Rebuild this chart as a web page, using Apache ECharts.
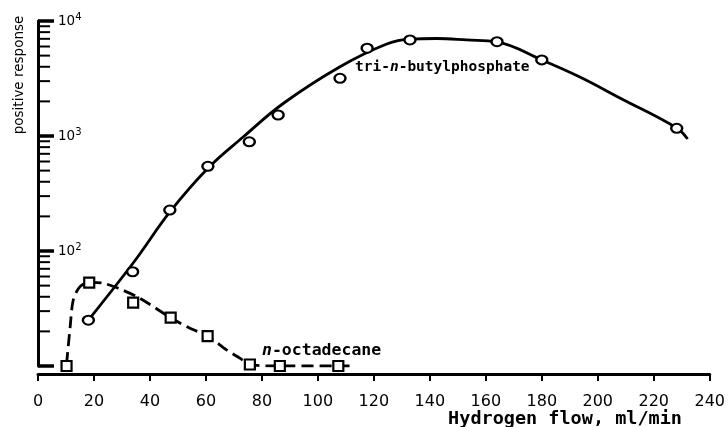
<!DOCTYPE html>
<html>
<head>
<meta charset="utf-8">
<script src="https://cdn.jsdelivr.net/npm/echarts@6/dist/echarts.min.js"></script>
<style>
html,body{margin:0;padding:0;background:#fff;}
#chart{width:728px;height:427px;}
</style>
</head>
<body>
<div id="chart"></div>
<script>
// Hydrogen flow (ml/min) vs positive response
const triMarkersX = [18, 33.8, 47.1, 60.7, 75.5, 85.8, 107.9, 117.6, 132.9, 164, 180, 228.2];
const triMarkersY = [25, 66, 227, 545, 891, 1523, 3175, 5800, 6840, 6610, 4590, 1166];
const triCurveX = [18, 34, 47.4, 60.8, 73.3, 87.6, 107.9, 124.6, 132.9, 142.5, 153.2, 163.9, 180, 193.6, 207.9, 228.2, 232.1];
const triCurveY = [25.1, 78.6, 222.8, 526.8, 980, 1917, 4005, 6310, 6970, 7047, 6839, 6568, 4581, 3258, 2140, 1174, 942];

const octMarkersX = [10.2, 18.3, 34, 47.4, 60.6, 75.7, 86.4, 107.3];
const octMarkersY = [10, 53, 35.5, 26.3, 18.2, 10.3, 10, 10];
const octCurveX = [10.2, 11.5, 12.6, 15, 18.3, 23.3, 28.7, 36.4, 47.4, 54.3, 60.6, 67.4, 72.1, 75.7, 86.4, 113];
const octCurveY = [10.4, 22, 37.5, 49, 53.4, 52.4, 47.4, 38.8, 26.3, 21.3, 18.2, 13.8, 11.7, 10.3, 10, 10];

const xTicks = [0, 20, 40, 60, 80, 100, 120, 140, 160, 180, 200, 220, 240];
const yMajorExponents = [1, 2, 3, 4];
const yMinorTicks = [20,30,40,50,60,70,80,90,200,300,400,500,600,700,800,900,2000,3000,4000,5000,6000,7000,8000,9000];

const zip = (xs, ys) => xs.map((x, i) => [x, ys[i]]);

const chart = echarts.init(document.getElementById('chart'), null, {renderer: 'canvas'});
chart.setOption({
  animation: false,
  backgroundColor: '#fff',
  grid: {left: 38, right: 18, top: 21, bottom: 61},
  xAxis: {
    type: 'value', min: xTicks[0], max: xTicks[xTicks.length - 1], interval: 20,
    offset: 8,
    axisLine: {show: true, lineStyle: {color: '#000', width: 3}},
    axisTick: {show: true, inside: false, length: 7, lineStyle: {color: '#000', width: 2}},
    axisLabel: {color: '#000', fontFamily: 'DejaVu Sans', fontSize: 16, margin: 20},
    splitLine: {show: false}
  },
  yAxis: {
    type: 'log', logBase: 10, min: Math.pow(10, yMajorExponents[0]), max: Math.pow(10, yMajorExponents[3]),
    axisLine: {show: true, onZero: false, lineStyle: {color: '#000', width: 3}},
    axisTick: {show: true, inside: true, length: 16, lineStyle: {color: '#000', width: 3.5}},
    axisLabel: {
      inside: true, margin: 20, color: '#000',
      formatter: v => { const e = Math.round(Math.log10(v)); return e === yMajorExponents[0] ? '' : '{b|10}{s|' + e + '}'; },
      rich: {
        b: {fontFamily: 'DejaVu Sans', fontSize: 13.5, lineHeight: 17, color: '#000'},
        s: {fontFamily: 'DejaVu Sans', fontSize: 10, lineHeight: 10, verticalAlign: 'top', color: '#000'}
      }
    },
    splitLine: {show: false}
  },
  graphic: [
    {type: 'text', x: 19, y: 75, rotation: Math.PI / 2,
     style: {text: 'positive response', fill: '#000', font: '13.5px "DejaVu Sans"', align: 'center', verticalAlign: 'middle'}},
    {type: 'text', x: 355, y: 67,
     style: {text: '{a|tri-}{i|n}{a|-butylphosphate}', fill: '#000', align: 'left', verticalAlign: 'middle',
       rich: {a: {fontFamily: 'DejaVu Sans Mono', fontWeight: 'bold', fontSize: 14.5, fill: '#000'},
              i: {fontFamily: 'DejaVu Sans Mono', fontWeight: 'bold', fontSize: 14.5, fontStyle: 'italic', fill: '#000'}}}},
    {type: 'text', x: 262, y: 351,
     style: {text: '{i|n}{a|-octadecane}', fill: '#000', align: 'left', verticalAlign: 'middle',
       rich: {a: {fontFamily: 'DejaVu Sans Mono', fontWeight: 'bold', fontSize: 16.5, fill: '#000'},
              i: {fontFamily: 'DejaVu Sans Mono', fontWeight: 'bold', fontSize: 16.5, fontStyle: 'italic', fill: '#000'}}}},
    {type: 'text', x: 682, y: 419,
     style: {text: 'Hydrogen flow, ml/min', fill: '#000', font: 'bold 18.5px "DejaVu Sans Mono"', align: 'right', verticalAlign: 'middle'}}
  ],
  series: [
    {
      type: 'custom', silent: true, clip: false, z: 1,
      data: yMinorTicks.map(v => [xTicks[0], v]),
      renderItem: (params, api) => {
        const p = api.coord([api.value(0), api.value(1)]);
        return {type: 'line', shape: {x1: p[0], y1: p[1], x2: p[0] + 12, y2: p[1]},
                style: {stroke: '#000', lineWidth: 2}};
      }
    },
    {
      type: 'line', data: zip(triCurveX, triCurveY), smooth: 0.4, showSymbol: false, silent: true, z: 2,
      lineStyle: {color: '#000', width: 2.8}
    },
    {
      type: 'line', data: zip(octCurveX, octCurveY), smooth: 0.3, showSymbol: false, silent: true, z: 2,
      lineStyle: {color: '#000', width: 2.8, type: [12, 6]}
    },
    {
      type: 'scatter', data: zip(triMarkersX, triMarkersY), symbol: 'circle', symbolSize: [11, 9], z: 3,
      itemStyle: {color: '#fff', borderColor: '#000', borderWidth: 2.2, opacity: 1}
    },
    {
      type: 'scatter', data: zip(octMarkersX, octMarkersY), symbol: 'rect', symbolSize: 10, z: 3,
      itemStyle: {color: '#fff', borderColor: '#000', borderWidth: 2.2, opacity: 1}
    }
  ]
});
</script>
</body>
</html>
